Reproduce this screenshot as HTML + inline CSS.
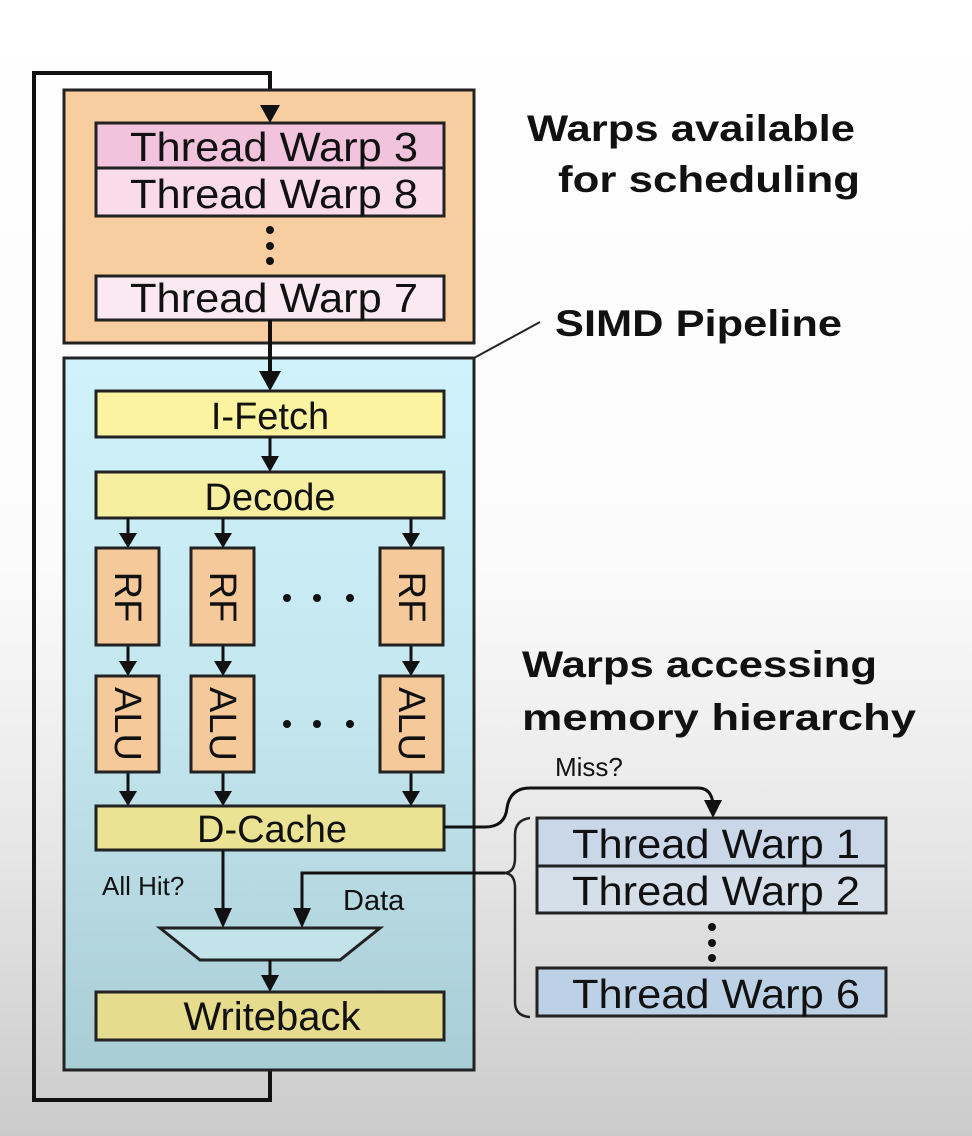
<!DOCTYPE html>
<html><head><meta charset="utf-8"><style>
html,body{margin:0;padding:0;}
body{width:972px;height:1136px;overflow:hidden;}
svg{display:block;}
text{font-family:"Liberation Sans",Arial,sans-serif;fill:#111;}
</style></head><body>
<svg width="972" height="1136" viewBox="0 0 972 1136" xmlns="http://www.w3.org/2000/svg">
<defs>
<linearGradient id="bg" x1="0" y1="0" x2="0" y2="1">
<stop offset="0" stop-color="#ffffff"/>
<stop offset="0.5" stop-color="#fbfbfb"/>
<stop offset="0.75" stop-color="#e6e6e6"/>
<stop offset="1" stop-color="#cbcbcb"/>
</linearGradient>
<linearGradient id="blue" x1="0" y1="0" x2="0" y2="1">
<stop offset="0" stop-color="#d0f3fb"/>
<stop offset="0.5" stop-color="#c4e6ee"/>
<stop offset="1" stop-color="#a9cdd5"/>
</linearGradient>
</defs>
<rect width="972" height="1136" fill="url(#bg)"/>

<polyline points="270,1040 270,1100 34,1100 34,73 270,73 270,110" fill="none" stroke="#111" stroke-width="4"/>
<rect x="64" y="90" width="410" height="253" fill="#f8cd9f" stroke="#222" stroke-width="3"/>
<polygon points="260,105 280,105 270,123" fill="#111"/>
<rect x="96" y="123" width="348" height="45" fill="#f2c3dc" stroke="#222" stroke-width="3"/>
<rect x="96" y="168" width="348" height="48" fill="#f9dbe9" stroke="#222" stroke-width="3"/>
<rect x="96" y="276" width="348" height="44" fill="#fbe9f1" stroke="#222" stroke-width="3"/>
<circle cx="270" cy="230" r="4" fill="#111"/><circle cx="270" cy="246" r="4" fill="#111"/><circle cx="270" cy="261" r="4" fill="#111"/>
<text x="130" y="161" font-size="41" textLength="288" lengthAdjust="spacingAndGlyphs">Thread Warp 3</text>
<text x="130" y="208" font-size="41" textLength="288" lengthAdjust="spacingAndGlyphs">Thread Warp 8</text>
<text x="130" y="312" font-size="41" textLength="288" lengthAdjust="spacingAndGlyphs">Thread Warp 7</text>

<rect x="64" y="358" width="410" height="712" fill="url(#blue)" stroke="#222" stroke-width="3"/>
<line x1="474" y1="358" x2="540" y2="322" stroke="#222" stroke-width="2"/>
<line x1="270" y1="320" x2="270" y2="375" stroke="#111" stroke-width="4"/>
<polygon points="259,371 281,371 270,391" fill="#111"/>

<rect x="96" y="391" width="348" height="46" fill="#fbf3a0" stroke="#222" stroke-width="3"/>
<text x="270" y="429" font-size="38" text-anchor="middle">I-Fetch</text>
<line x1="270" y1="437" x2="270" y2="458" stroke="#111" stroke-width="3"/>
<polygon points="261,456 279,456 270,472" fill="#111"/>
<rect x="96" y="472" width="348" height="46" fill="#f7efa0" stroke="#222" stroke-width="3"/>
<text x="270" y="510" font-size="38" text-anchor="middle">Decode</text>

<g stroke="#111" stroke-width="3">
<line x1="128" y1="518" x2="128" y2="536"/><line x1="223" y1="518" x2="223" y2="536"/><line x1="411" y1="518" x2="411" y2="536"/>
<line x1="128" y1="645" x2="128" y2="664"/><line x1="223" y1="645" x2="223" y2="664"/><line x1="411" y1="645" x2="411" y2="664"/>
<line x1="128" y1="772" x2="128" y2="794"/><line x1="223" y1="772" x2="223" y2="794"/><line x1="411" y1="772" x2="411" y2="794"/>
</g>
<g fill="#111">
<polygon points="119,533 137,533 128,548"/><polygon points="214,533 232,533 223,548"/><polygon points="402,533 420,533 411,548"/>
<polygon points="119,661 137,661 128,676"/><polygon points="214,661 232,661 223,676"/><polygon points="402,661 420,661 411,676"/>
<polygon points="119,791 137,791 128,806"/><polygon points="214,791 232,791 223,806"/><polygon points="402,791 420,791 411,806"/>
</g>
<g fill="#f6c99b" stroke="#222" stroke-width="3">
<rect x="96" y="548" width="63" height="97"/><rect x="191" y="548" width="63" height="97"/><rect x="380" y="548" width="63" height="97"/>
<rect x="96" y="676" width="63" height="96"/><rect x="191" y="676" width="63" height="96"/><rect x="380" y="676" width="63" height="96"/>
</g>
<g font-size="38" text-anchor="middle">
<text transform="translate(115,597) rotate(90)">RF</text>
<text transform="translate(210,597) rotate(90)">RF</text>
<text transform="translate(399,597) rotate(90)">RF</text>
<text transform="translate(115,724) rotate(90)">ALU</text>
<text transform="translate(210,724) rotate(90)">ALU</text>
<text transform="translate(399,724) rotate(90)">ALU</text>
</g>
<g fill="#111">
<circle cx="287" cy="598" r="4"/><circle cx="317" cy="598" r="4"/><circle cx="350" cy="598" r="4"/>
<circle cx="287" cy="724" r="4"/><circle cx="317" cy="724" r="4"/><circle cx="350" cy="724" r="4"/>
</g>

<rect x="96" y="806" width="348" height="44" fill="#ebe394" stroke="#222" stroke-width="3"/>
<text x="272" y="842" font-size="38" text-anchor="middle">D-Cache</text>
<text x="102" y="895" font-size="26">All Hit?</text>
<text x="343" y="910" font-size="29">Data</text>
<line x1="223" y1="850" x2="223" y2="912" stroke="#111" stroke-width="3"/>
<polygon points="214,908 232,908 223,928" fill="#111"/>
<polyline points="505,873 302,873 302,912" fill="none" stroke="#111" stroke-width="3"/>
<polygon points="293,908 311,908 302,928" fill="#111"/>
<polygon points="160,928 380,928 340,960 200,960" fill="#c3e3ea" stroke="#222" stroke-width="3"/>
<line x1="270" y1="960" x2="270" y2="978" stroke="#111" stroke-width="3"/>
<polygon points="261,975 279,975 270,992" fill="#111"/>
<rect x="96" y="992" width="348" height="48" fill="#e6dc8e" stroke="#222" stroke-width="3"/>
<text x="272" y="1030" font-size="40" text-anchor="middle">Writeback</text>

<path d="M444,827 L485,827 Q505,827 507,808 Q510,788 530,788 L698,788 Q712,788 713,805" fill="none" stroke="#111" stroke-width="3"/>
<polygon points="704,800 722,800 713,818" fill="#111"/>
<text x="555" y="776" font-size="26">Miss?</text>
<path d="M530,818 Q515,820 515,835 L515,858 Q515,872 505,873 Q515,874 515,888 L515,1002 Q515,1016 530,1017" fill="none" stroke="#222" stroke-width="2.5"/>

<rect x="537" y="818" width="349" height="48" fill="#c9d7e8" stroke="#222" stroke-width="3"/>
<rect x="537" y="866" width="349" height="47" fill="#d4dfea" stroke="#222" stroke-width="3"/>
<rect x="537" y="968" width="349" height="48" fill="#bcd0e6" stroke="#222" stroke-width="3"/>
<circle cx="712" cy="927" r="4" fill="#111"/><circle cx="712" cy="943" r="4" fill="#111"/><circle cx="712" cy="958" r="4" fill="#111"/>
<text x="572" y="858" font-size="41" textLength="288" lengthAdjust="spacingAndGlyphs">Thread Warp 1</text>
<text x="572" y="905" font-size="41" textLength="288" lengthAdjust="spacingAndGlyphs">Thread Warp 2</text>
<text x="572" y="1008" font-size="41" textLength="288" lengthAdjust="spacingAndGlyphs">Thread Warp 6</text>

<g font-weight="bold" font-size="37">
<text x="527" y="141" textLength="328" lengthAdjust="spacingAndGlyphs">Warps available</text>
<text x="558" y="192" textLength="302" lengthAdjust="spacingAndGlyphs">for scheduling</text>
<text x="555" y="336" textLength="287" lengthAdjust="spacingAndGlyphs">SIMD Pipeline</text>
<text x="522" y="677" textLength="355" lengthAdjust="spacingAndGlyphs">Warps accessing</text>
<text x="522" y="730" textLength="394" lengthAdjust="spacingAndGlyphs">memory hierarchy</text>
</g>
</svg>
</body></html>
